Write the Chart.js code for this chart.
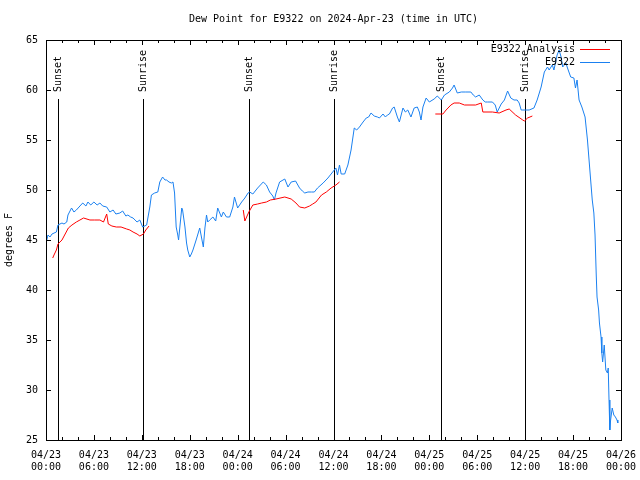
<!DOCTYPE html>
<html>
<head>
<meta charset="UTF-8">
<title>Dew Point for E9322</title>
<script src="https://cdn.jsdelivr.net/npm/chart.js"></script>
<style>
  body { margin: 0; background: #fff; }
  canvas { display: block; }
</style>
</head>
<body>
<canvas id="dewChart" width="640" height="480"></canvas>
<script>
// hours since 2024-04-23 00:00 UTC
const blueHours = [
  0.1, 0.25, 0.5, 0.75, 1.3, 1.5, 2.0, 2.25, 2.6, 2.75, 3.2, 3.5, 3.8, 4.25, 4.6, 5.0, 5.25, 5.6, 6.0, 6.4,
  6.75, 7.1, 7.6, 8.0, 8.4, 8.75, 9.25, 9.6, 10.0, 10.25, 10.6, 10.9, 11.4, 11.75, 12.1, 12.6, 13.0, 13.2, 13.6, 14.0,
  14.25, 14.6, 14.9, 15.1, 15.4, 15.7, 15.9, 16.1, 16.3, 16.5, 16.6, 17.0, 17.1, 17.4, 17.6, 17.75, 18.0, 18.2, 18.4, 18.8,
  19.25, 19.7, 19.9, 20.1, 20.25, 20.5, 20.9, 21.25, 21.5, 21.96, 22.2, 22.6, 23.0, 23.4, 23.6, 24.0, 24.5, 24.9, 25.3, 25.5,
  25.9, 26.5, 27.2, 27.6, 28.0, 28.4, 28.6, 28.8, 29.25, 29.9, 30.3, 30.7, 31.25, 31.75, 32.1, 32.4, 32.8, 33.25, 33.6, 34.0,
  34.7, 35.3, 35.9, 36.3, 36.5, 36.75, 36.96, 37.4, 37.8, 38.2, 38.6, 38.9, 39.25, 39.7, 40.1, 40.4, 40.7, 41.1, 41.5, 41.75,
  42.2, 42.5, 42.75, 43.0, 43.4, 43.6, 44.0, 44.25, 44.7, 45.0, 45.3, 45.7, 46.1, 46.5, 46.75, 46.96, 47.2, 47.6, 48.0, 48.6,
  49.0, 49.5, 49.9, 50.5, 50.9, 51.1, 51.5, 52.0, 52.5, 53.2, 53.5, 53.8, 54.25, 54.7, 55.0, 55.3, 55.9, 56.25, 56.5, 57.0,
  57.4, 57.8, 58.2, 58.6, 59.0, 59.25, 59.5, 59.7, 60.5, 61.1, 61.5, 62.0, 62.4, 62.8, 63.0, 63.4, 63.6, 64.0, 64.25, 64.5,
  64.7, 65.1, 65.3, 65.7, 66.1, 66.3, 66.5, 66.75, 67.1, 67.5, 67.8, 68.1, 68.4, 68.6, 68.75, 68.9, 69.0, 69.2, 69.3, 69.5,
  69.6, 69.7, 69.9, 70.1, 70.3, 70.4, 70.5, 70.6, 70.7, 70.9, 71.1, 71.3, 71.5, 71.6
];
const blueDew = [
  45.0, 45.5, 45.3, 45.6, 45.8, 46.5, 46.7, 46.6, 46.8, 47.5, 48.2, 47.8, 48.0, 48.4, 48.7, 48.4, 48.8, 48.5, 48.8, 48.5,
  48.7, 48.4, 48.3, 47.8, 48.0, 47.6, 47.7, 47.9, 47.4, 47.5, 47.3, 47.2, 46.8, 47.0, 46.3, 46.5, 48.3, 49.5, 49.7, 49.8,
  50.8, 51.3, 51.0, 51.0, 50.8, 50.7, 50.8, 49.7, 46.3, 45.5, 45.0, 48.2, 48.0, 46.3, 44.7, 44.0, 43.3, 43.6, 44.0, 45.0,
  46.2, 44.3, 46.2, 47.5, 46.8, 47.0, 47.3, 46.9, 48.2, 47.3, 47.8, 47.3, 47.3, 48.3, 49.3, 48.2, 48.8, 49.2, 49.7, 49.8,
  49.6, 50.2, 50.8, 50.5, 49.8, 49.4, 49.0, 49.7, 50.8, 51.1, 50.3, 50.8, 50.9, 50.2, 49.9, 49.7, 49.8, 49.8, 49.8, 50.2,
  50.7, 51.2, 51.8, 52.2, 51.5, 52.5, 51.6, 51.6, 52.5, 54.0, 56.2, 56.0, 56.3, 56.8, 57.2, 57.3, 57.7, 57.4, 57.3, 57.2,
  57.6, 57.3, 57.5, 57.6, 58.2, 58.3, 57.3, 56.8, 58.2, 57.8, 58.0, 57.3, 58.2, 58.3, 57.8, 57.0, 58.3, 59.2, 58.8, 59.1,
  59.4, 59.0, 59.5, 59.8, 60.2, 60.5, 59.7, 59.8, 59.8, 59.8, 59.5, 59.3, 59.5, 59.0, 58.8, 58.8, 58.8, 58.5, 57.8, 58.6,
  59.0, 59.9, 59.2, 59.0, 59.0, 58.7, 58.0, 58.0, 58.0, 58.2, 59.0, 60.3, 61.8, 62.3, 62.0, 62.5, 62.0, 63.5, 64.0, 63.3,
  62.3, 62.7, 62.2, 61.3, 61.2, 60.2, 61.0, 59.0, 58.3, 57.3, 55.0, 52.0, 49.0, 47.7, 45.5, 41.5, 39.3, 38.0, 36.7, 35.3,
  33.7, 32.8, 34.5, 32.0, 31.7, 32.2, 29.0, 26.0, 27.0, 28.2, 27.5, 27.3, 27.0, 26.7
];
// analysis: null marks the gaps between runs
const redHours = [
  0.84, 1.0, 1.3, 1.5, 2.0, 2.4, 2.8, 3.25, 3.8, 4.25, 4.7, 5.5, 6.1, 6.75, 7.2, 7.6, 7.8, 8.25, 8.8, 9.4,
  10.1, 10.5, 10.9, 11.4, 11.75, 12.2, 12.5, 12.9, 18.0,
  24.7, 24.9, 25.4, 25.9, 26.5, 27.0, 27.6, 28.1, 28.8, 29.9, 30.7, 31.3, 31.75, 32.4, 33.0, 33.4, 33.8, 34.5, 35.1, 35.7,
  36.3, 36.75, 42.0,
  48.75, 49.7, 50.1, 50.7, 51.1, 51.75, 52.4, 53.8, 54.5, 54.7, 55.9, 56.75, 57.6, 58.0, 58.8, 59.7, 59.9, 60.3, 60.9
];
const redDew = [
  43.2, 43.5, 44.0, 44.6, 45.0, 45.6, 46.2, 46.5, 46.8, 47.0, 47.2, 47.0, 47.0, 47.0, 46.8, 47.6, 46.6, 46.4, 46.3, 46.3,
  46.1, 46.0, 45.8, 45.6, 45.4, 45.6, 46.0, 46.4, null,
  48.0, 46.9, 47.8, 48.5, 48.6, 48.7, 48.8, 49.0, 49.1, 49.3, 49.1, 48.7, 48.3, 48.2, 48.4, 48.6, 48.8, 49.5, 49.8, 50.2,
  50.5, 50.8, null,
  57.6, 57.6, 58.0, 58.5, 58.7, 58.7, 58.5, 58.5, 58.7, 57.8, 57.8, 57.7, 58.0, 58.1, 57.5, 57.0, 56.9, 57.2, 57.4
];
const sunHours = [1.5, 12.1, 25.4, 36.1, 49.4, 60.0];
const sunLabels = ['Sunset', 'Sunrise', 'Sunset', 'Sunrise', 'Sunset', 'Sunrise'];
const xTickDays = ['04/23', '04/23', '04/23', '04/23', '04/24', '04/24', '04/24', '04/24', '04/25', '04/25', '04/25', '04/25', '04/26'];
const xTickTimes = ['00:00', '06:00', '12:00', '18:00', '00:00', '06:00', '12:00', '18:00', '00:00', '06:00', '12:00', '18:00', '00:00'];

const MONO = "'DejaVu Sans Mono', monospace";
const RED = '#ff0000';
const BLUE = '#1a80f0';

const toPoints = (xs, ys) => xs.map((x, i) => ({ x: x, y: ys[i] }));

// gnuplot-like frame: inward ticks, sunrise/sunset markers, legend
const gnuplotFrame = {
  id: 'gnuplotFrame',
  beforeDatasetsDraw(chart) {
    const { ctx, chartArea: a, scales: { x, y } } = chart;
    ctx.save();
    ctx.strokeStyle = '#000';
    ctx.lineWidth = 1;
    ctx.fillStyle = '#000';
    ctx.font = '10px ' + MONO;
    sunHours.forEach((h, i) => {
      const px = Math.round(x.getPixelForValue(h)) + 0.5;
      ctx.beginPath();
      ctx.moveTo(px, a.bottom);
      ctx.lineTo(px, a.top + 59);
      ctx.stroke();
      ctx.save();
      ctx.translate(px, a.top + 52);
      ctx.rotate(-Math.PI / 2);
      ctx.textAlign = 'left';
      ctx.textBaseline = 'middle';
      ctx.fillText(sunLabels[i], 0, 0);
      ctx.restore();
    });
    ctx.restore();
  },
  afterDraw(chart) {
    const { ctx, chartArea: a, scales: { x, y } } = chart;
    ctx.save();
    ctx.strokeStyle = '#000';
    ctx.lineWidth = 1;
    ctx.strokeRect(Math.round(a.left) + 0.5, Math.round(a.top) + 0.5,
      Math.round(a.right - a.left), Math.round(a.bottom - a.top));
    ctx.beginPath();
    for (let h = 0; h <= 72; h += 2) {
      const px = Math.round(x.getPixelForValue(h)) + 0.5;
      const len = h % 6 === 0 ? 5 : 3;
      ctx.moveTo(px, a.bottom); ctx.lineTo(px, a.bottom - len);
      ctx.moveTo(px, a.top); ctx.lineTo(px, a.top + len);
    }
    for (let v = 25; v <= 65; v += 5) {
      const py = Math.round(y.getPixelForValue(v)) + 0.5;
      ctx.moveTo(a.left, py); ctx.lineTo(a.left + 5, py);
      ctx.moveTo(a.right, py); ctx.lineTo(a.right - 5, py);
    }
    ctx.stroke();

    // legend
    ctx.font = '10px ' + MONO;
    ctx.fillStyle = '#000';
    ctx.textAlign = 'right';
    ctx.textBaseline = 'middle';
    const rows = [['E9322 Analysis', RED], ['E9322', BLUE]];
    rows.forEach((r, i) => {
      const ly = a.top + 9 + i * 13;
      ctx.fillText(r[0], 575, ly);
      ctx.strokeStyle = r[1];
      ctx.beginPath();
      ctx.moveTo(580, ly + 0.5);
      ctx.lineTo(610, ly + 0.5);
      ctx.stroke();
    });
    ctx.restore();
  }
};

Chart.defaults.font.family = MONO;
Chart.defaults.font.size = 10;
Chart.defaults.color = '#000';

new Chart(document.getElementById('dewChart').getContext('2d'), {
  type: 'line',
  data: {
    datasets: [
      {
        label: 'E9322 Analysis',
        data: toPoints(redHours, redDew),
        borderColor: RED,
        borderWidth: 1,
        pointRadius: 0,
        spanGaps: false,
        tension: 0
      },
      {
        label: 'E9322',
        data: toPoints(blueHours, blueDew),
        borderColor: BLUE,
        borderWidth: 1,
        pointRadius: 0,
        tension: 0
      }
    ]
  },
  options: {
    responsive: false,
    animation: false,
    layout: { padding: { right: 19 } },
    plugins: {
      legend: { display: false },
      tooltip: { enabled: false },
      title: {
        display: true,
        text: 'Dew Point for E9322 on 2024-Apr-23 (time in UTC)',
        fullSize: false,
        font: { size: 10, weight: 'normal', family: MONO },
        color: '#000',
        padding: { top: 13, bottom: 15 }
      }
    },
    scales: {
      x: {
        type: 'linear',
        min: 0,
        max: 72,
        afterFit: s => { s.height = 40; s.paddingLeft = 0; s.paddingRight = 0; },
        grid: { display: false, drawTicks: false },
        border: { display: true, color: '#000' },
        ticks: {
          stepSize: 6,
          autoSkip: false,
          maxRotation: 0,
          padding: 9,
          callback: (v, i) => [xTickDays[i], xTickTimes[i]]
        }
      },
      y: {
        min: 25,
        max: 65,
        afterFit: s => { s.width = 46; },
        grid: { display: false, drawTicks: false },
        border: { display: true, color: '#000' },
        ticks: { stepSize: 5, padding: 8 },
        title: {
          display: true,
          text: 'degrees F',
          font: { size: 10, family: MONO },
          padding: { top: 3, bottom: 0 }
        }
      }
    }
  },
  plugins: [gnuplotFrame]
});
</script>
</body>
</html>
